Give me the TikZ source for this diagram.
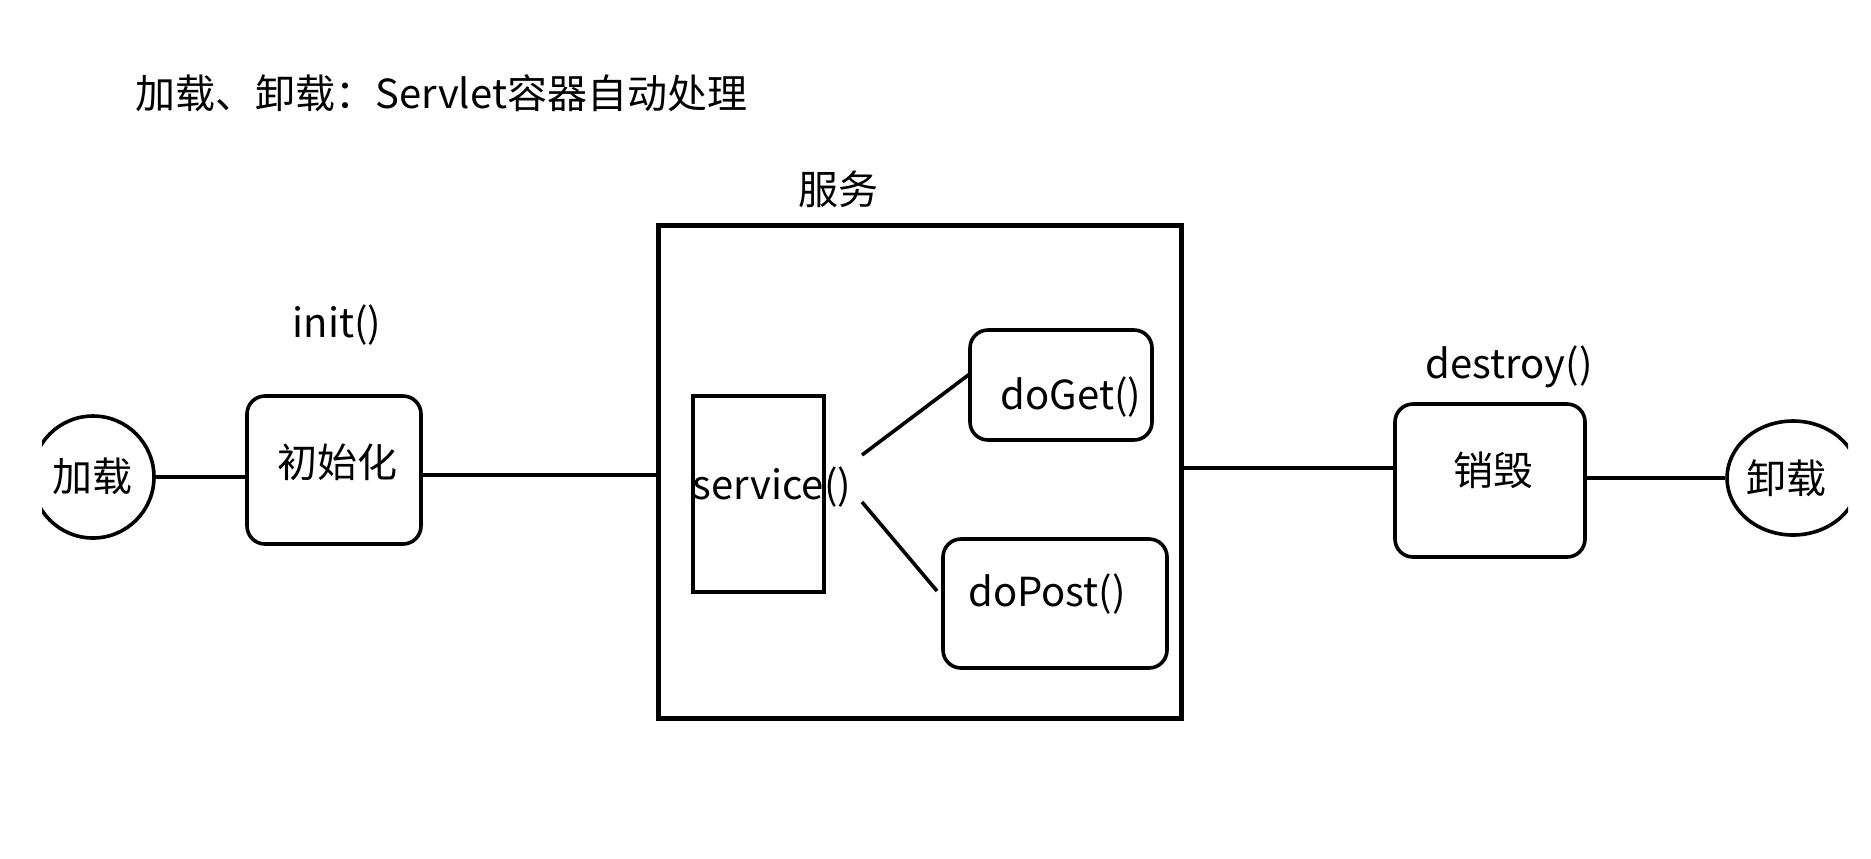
\documentclass[tikz,border=0pt]{standalone}
\usepackage{fontspec}
\setmainfont{Noto Sans CJK SC}
\usepackage{tikz}
\usetikzlibrary{shapes.geometric}

\begin{document}
\begin{tikzpicture}[x=0.5pt,y=0.5pt,yscale=-1,xscale=1,
  every node/.style={font=\fontsize{20}{24}\selectfont, inner sep=0pt},
  rbox/.style={draw, line width=1.8pt, rounded corners=9pt},
  sbox/.style={draw, line width=1.8pt},
  oval/.style={draw, ellipse, line width=1.8pt},
  wire/.style={line width=1.8pt}]
\path[use as bounding box] (0,0) rectangle (1871,858);

% Text Node
\node[anchor=west] (title) at (135,93) {加载、卸载：Servlet容器自动处理};
% Text Node
\node (servetitle) at (838,189) {服务};
% Text Node
\node (inittitle) at (337,325) {init()};
% Text Node
\node (killtitle) at (1509,367) {destroy()};

% Shape: Rectangle
\node[draw, line width=2.5pt, minimum width=261.5pt, minimum height=246.5pt] (serve) at (919.5,471.5) {};
% Shape: Rectangle
\node[sbox, minimum width=65.5pt, minimum height=98pt] (svcbox) at (758.5,494) {};
% Shape: Rounded rectangle
\node[rbox, minimum width=87pt, minimum height=74pt] (initbox) at (334,470) {};
% Shape: Rounded rectangle
\node[rbox, minimum width=91pt, minimum height=55pt] (doget) at (1061,385) {};
% Shape: Rounded rectangle
\node[rbox, minimum width=112pt, minimum height=64.5pt] (dopost) at (1055,603.5) {};
% Shape: Rounded rectangle
\node[rbox, minimum width=95pt, minimum height=76.5pt] (killbox) at (1490,480.5) {};

% Shape: Ellipse (cut at the sides)
\begin{scope}
\clip (42,0) rectangle (1848,858);
\node[oval, minimum width=61pt, minimum height=61pt] (load) at (93,477) {};
\node[oval, minimum width=66pt, minimum height=57pt] (unload) at (1793,478) {};
\end{scope}

% Text Node
\node (loadtxt) at (92,476) {加载};
% Text Node
\node (unloadtxt) at (1786,478) {卸载};
% Text Node
\node (inittxt) at (337,462) {初始化};
% Text Node
\node (killtxt) at (1493,470) {销毁};
% Text Node
\node (svctxt) at (772,487) {service()};
% Text Node
\node (gettxt) at (1071,397) {doGet()};
% Text Node
\node (posttxt) at (1047,594) {doPost()};

\coordinate (initout) at (421,475);
\coordinate (serveout) at (1182,468);
\coordinate (svcup) at (862,455);
\coordinate (getin) at (971,373);
\coordinate (svcdown) at (862,502);
\coordinate (postin) at (937,591);

% Connection
\draw[wire] (load.east) -- (load.east -| initbox.west);
% Connection
\draw[wire] (initout) -- (initout -| serve.west);
% Connection
\draw[wire] (serveout) -- (serveout -| killbox.west);
% Connection
\draw[wire] (unload.west -| killbox.east) -- (unload.west);
% Connection
\draw[wire] (svcup) -- (getin);
% Connection
\draw[wire] (svcdown) -- (postin);

\end{tikzpicture}
\end{document}
